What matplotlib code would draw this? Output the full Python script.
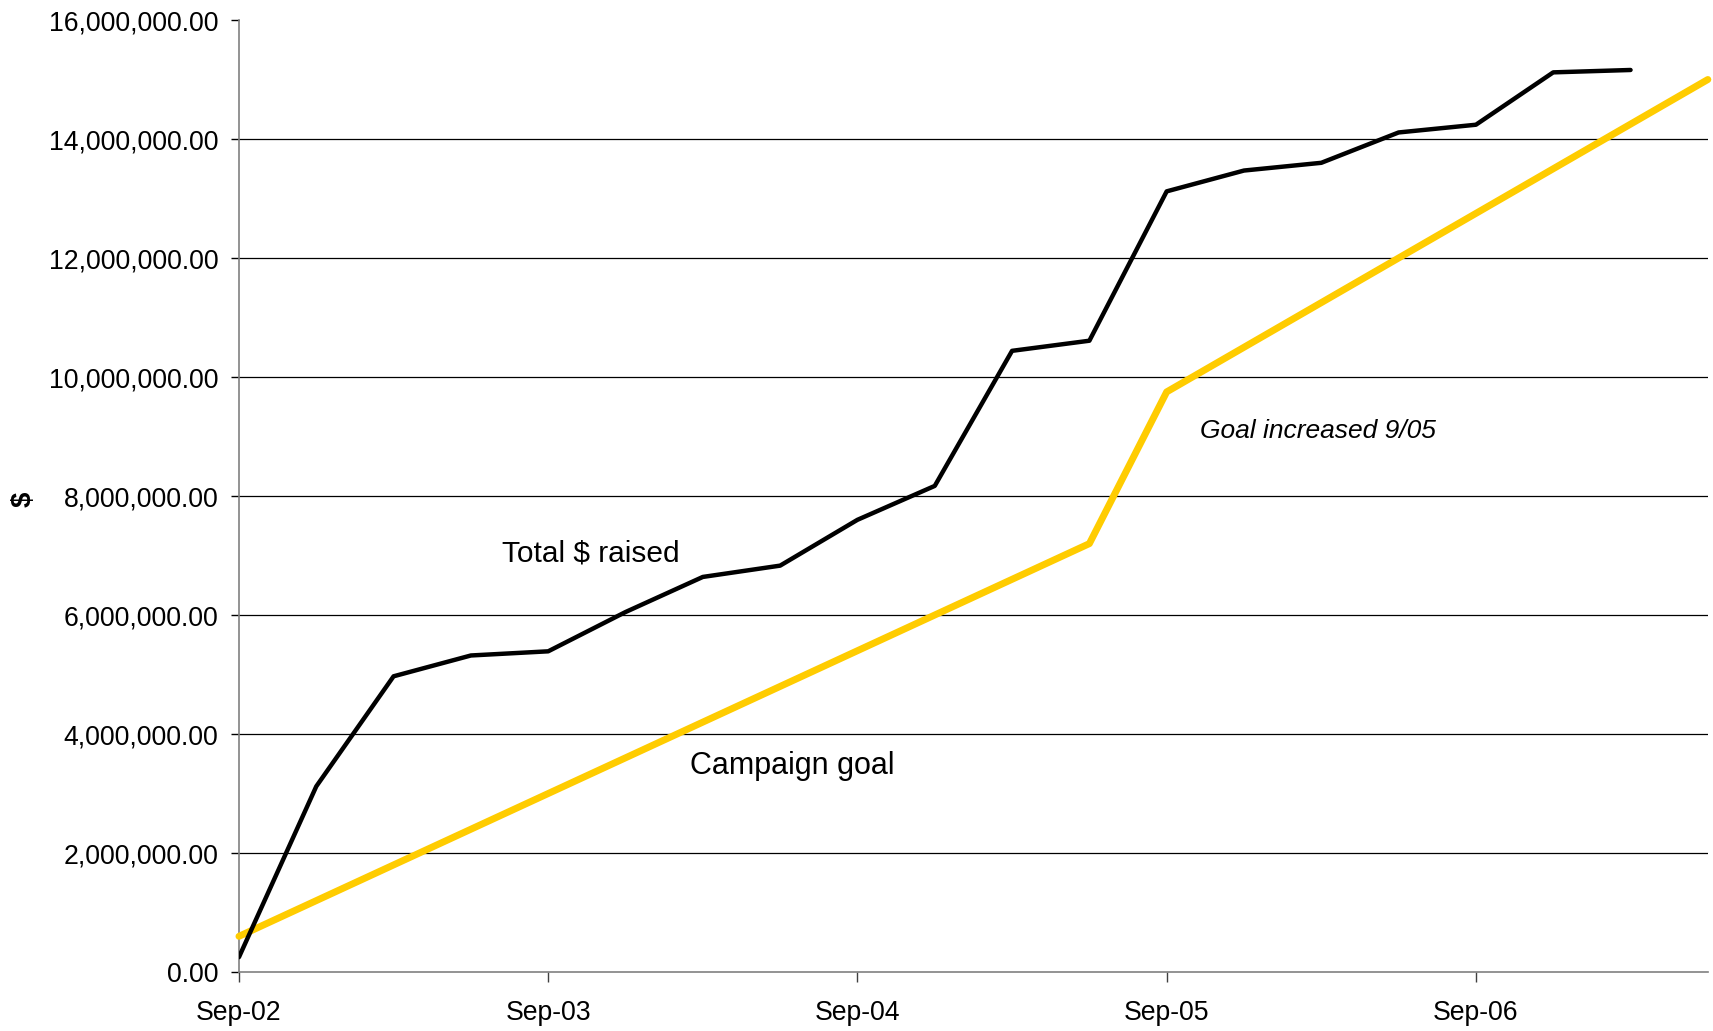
import numpy as np
import matplotlib
matplotlib.use('Agg')
import matplotlib.pyplot as plt
from matplotlib.ticker import FuncFormatter

plt.rcParams['font.family'] = ['Liberation Sans', 'DejaVu Sans']

# Trimestres desde Sep-02 hasta Jun-07
trimestres = ['Sep-02', 'Dec-02', 'Mar-03', 'Jun-03', 'Sep-03', 'Dec-03', 'Mar-04', 'Jun-04',
              'Sep-04', 'Dec-04', 'Mar-05', 'Jun-05', 'Sep-05', 'Dec-05', 'Mar-06', 'Jun-06',
              'Sep-06', 'Dec-06', 'Mar-07', 'Jun-07']

# Total recaudado (millones de $)
total = [0.25, 3.12, 4.97, 5.32, 5.39, 6.05, 6.64, 6.83, 7.60, 8.17,
         10.44, 10.61, 13.12, 13.47, 13.60, 14.11, 14.24, 15.12, 15.16]

# Meta de la campaña (millones de $)
meta = [0.6, 1.2, 1.8, 2.4, 3.0, 3.6, 4.2, 4.8, 5.4, 6.0, 6.6, 7.2,
        9.75, 10.5, 11.25, 12.0, 12.75, 13.5, 14.25, 15.0]

etiquetas_x = ['Sep-02', 'Sep-03', 'Sep-04', 'Sep-05', 'Sep-06']

x_total = np.arange(len(total))
x_meta = np.arange(len(meta))

fig = plt.figure(figsize=(17.13, 10.31), dpi=100)
ax = fig.add_axes([0.1395, 0.0572, 0.8575, 0.9234])

ax.plot(x_meta, np.array(meta) * 1e6, color='#FFCC00', lw=5, solid_capstyle='round', clip_on=False, zorder=3)
ax.plot(x_total, np.array(total) * 1e6, color='black', lw=3.2, solid_capstyle='round', zorder=4)

ax.set_xlim(0, len(meta) - 1)
ax.set_ylim(0, 16e6)
ax.set_yticks(np.arange(0, 16.1e6, 2e6))
ax.yaxis.set_major_formatter(FuncFormatter(lambda v, p: f'{v:,.2f}'))
ax.set_xticks([trimestres.index(t) for t in etiquetas_x])
ax.set_xticklabels(etiquetas_x)

ax.yaxis.grid(True, color='black', lw=0.9)
ax.get_ygridlines()[-1].set_visible(False)
ax.get_ygridlines()[0].set_visible(False)
ax.set_axisbelow(True)

for s in ['top', 'right']:
    ax.spines[s].set_visible(False)
for s in ['left', 'bottom']:
    ax.spines[s].set_color('#808080')
    ax.spines[s].set_linewidth(1.2)

ax.tick_params(axis='y', length=6, width=1, color='black', labelsize=19.2, pad=9)
ax.tick_params(axis='x', length=7, width=1, color='#404040', labelsize=19.2, pad=13)

ax.set_ylabel('$', fontsize=20, fontweight='bold', labelpad=0)
ax.yaxis.set_label_coords(-0.138, 0.497)

ax.text(3.40, 7.04e6, 'Total $ raised', fontsize=21.5, ha='left', va='center')
ax.text(5.83, 3.46e6, 'Campaign goal', fontsize=22, ha='left', va='center')
ax.text(12.43, 9.09e6, 'Goal increased 9/05', fontsize=19, style='italic', ha='left', va='center')

fig.savefig('out.png', dpi=100)
